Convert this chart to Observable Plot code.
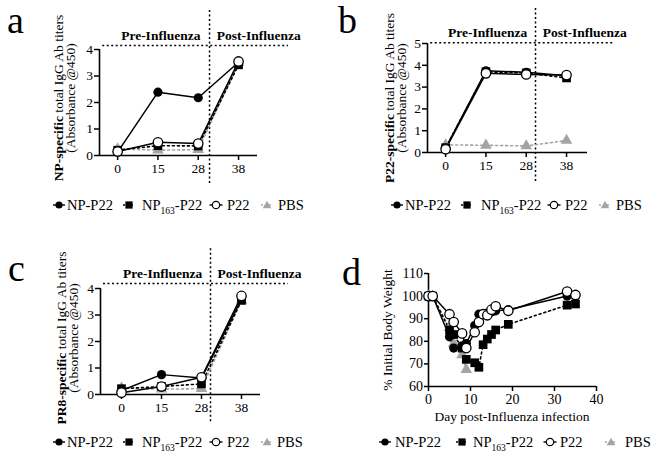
<!DOCTYPE html>
<html><head><meta charset="utf-8">
<script src="https://cdn.jsdelivr.net/npm/d3@7"></script>
<script src="https://cdn.jsdelivr.net/npm/@observablehq/plot@0.6"></script>
<style>
body{margin:0;background:#fff;}
#wrap{position:relative;width:658px;height:460px;overflow:hidden;font-family:'Liberation Serif','DejaVu Serif',serif;background:#fff;}
#wrap > svg{position:absolute;}
#wrap svg text{font-family:'Liberation Serif','DejaVu Serif',serif;}
</style></head><body><div id="wrap"></div>
<script>
// ---------- data ----------
const abDays = [0, 15, 28, 38];
const groups = ["NP-P22", "NP163-P22", "P22", "PBS"];
// a: NP-specific IgG (Absorbance @450)
const npNPP22 = [0.13, 2.39, 2.18, 3.52];
const npNP163 = [0.2, 0.37, 0.36, 3.42];
const npP22   = [0.15, 0.5, 0.45, 3.55];
const npPBS   = [0.25, 0.2, 0.22, 3.5];
// b: P22-specific IgG
const p22NPP22 = [0.2, 3.75, 3.68, 3.52];
const p22NP163 = [0.22, 3.7, 3.65, 3.42];
const p22P22   = [0.15, 3.63, 3.58, 3.55];
const p22PBS   = [0.35, 0.33, 0.3, 0.55];
// c: PR8-specific IgG
const pr8NPP22 = [0.15, 0.75, 0.62, 3.6];
const pr8NP163 = [0.22, 0.3, 0.4, 3.55];
const pr8P22   = [0.07, 0.3, 0.65, 3.72];
const pr8PBS   = [0.25, 0.2, 0.22, 3.55];
// d: % initial body weight
const bwDays  = [0, 1, 5, 6, 8, 9, 11, 12, 13, 14, 15, 16, 19, 33, 35];
const bwNPP22 = [100, 100, 82, 77, 78, 79, 87, 92, 92, 92.5, 93, 93.5, 94, 100, 100];
const bwNP163 = [100, 100, 85, 83, 77, 72, 70.5, 68.5, 78.5, 81, 83, 85, 87.5, 96, 96.5];
const bwP22   = [100, 100, 92, 88.5, 83.5, 77, 84, 88.5, 92, 91.5, 94, 95.5, 93.5, 102, 100.5];
const pbsDays = [0, 1, 5, 6, 8, 9];
const bwPBS   = [100, 100, 86, 79, 74, 67.5];
const ticks4 = [0, 1, 2, 3, 4];
const ticks5 = [0, 1, 2, 3, 4, 5];
const bwXTicks = [0, 10, 20, 30, 40];
const bwYTicks = [60, 70, 80, 90, 100, 110];

// ---------- styles ----------
const GRAY = "#a4a4a4";
const FONT = "'Liberation Serif', 'DejaVu Serif', serif";
const fmt = d => String(d);
const sty = {
  "NP-P22":    {line: {stroke: "black", strokeWidth: 1.5}, dot: {symbol: "circle", r: 4.6, fill: "black"}},
  "NP163-P22": {line: {stroke: "black", strokeWidth: 1.6, strokeDasharray: "2,3"}, dot: {symbol: "square", r: 4.9, fill: "black"}},
  "P22":       {line: {stroke: "black", strokeWidth: 1.5}, dot: {symbol: "circle", r: 4.7, fill: "white", stroke: "black", strokeWidth: 1.3}},
  "PBS":       {line: {stroke: GRAY, strokeWidth: 1.6, strokeDasharray: "2,3"}, dot: {symbol: "triangle", r: 4.3, fill: GRAY}}
};
const drawOrder = ["PBS", "NP163-P22", "NP-P22", "P22"];
const rows = (xs, ys) => ys.map((v, i) => ({x: xs[i], y: v}));
const idx = abDays.map((d, i) => i);

function seriesMarks(data) {
  const m = [];
  for (const g of drawOrder) m.push(Plot.line(data[g], {x: "x", y: "y", ...sty[g].line}));
  for (const g of drawOrder) m.push(Plot.dot(data[g], {x: "x", y: "y", ...sty[g].dot}));
  return m;
}

function abPanel(c) {
  const data = {
    "NP-P22": rows(idx, c.vals[0]), "NP163-P22": rows(idx, c.vals[1]),
    "P22": rows(idx, c.vals[2]), "PBS": rows(idx, c.vals[3])
  };
  const svg = Plot.plot({
    width: c.w, height: c.h,
    marginLeft: c.mL, marginTop: c.mT, marginRight: c.mR, marginBottom: c.mB,
    x: {type: "linear", domain: c.xd, axis: null},
    y: {domain: [0, c.yTicks[c.yTicks.length - 1]], axis: null},
    style: {fontFamily: FONT, fontSize: "13.5px", color: "black", background: "transparent"},
    marks: [
      Plot.ruleX([c.sepX], {y1: c.sepY[0], y2: c.sepY[1], stroke: "black", strokeWidth: 1.5, strokeDasharray: "2,2.5"}),
      Plot.ruleY([c.hY], {x1: c.hX[0], x2: c.hX[1], stroke: "black", strokeWidth: 1.5, strokeDasharray: "2,2.5"}),
      Plot.text(["Pre-Influenza"], {x: c.pre[0], y: c.pre[1], fontWeight: "bold", fontSize: 13.5}),
      Plot.text(["Post-Influenza"], {x: c.post[0], y: c.post[1], fontWeight: "bold", fontSize: 13.5}),
      Plot.ruleX([c.xd[0]], {stroke: "black", strokeWidth: 1.6}),
      Plot.ruleY([0], {stroke: "black", strokeWidth: 1.6}),
      Plot.axisX({ticks: idx, tickFormat: i => fmt(abDays[i]), tickSize: 5, tickPadding: 2.5, strokeWidth: 1.5, label: null}),
      Plot.axisY({ticks: c.yTicks, tickFormat: fmt, tickSize: 5, tickPadding: 1.5, strokeWidth: 1.5, label: null}),
      ...seriesMarks(data)
    ]
  });
  svg.style.left = c.left + "px"; svg.style.top = c.top + "px";
  return svg;
}

const wrap = document.getElementById("wrap");

wrap.appendChild(abPanel({
  left: 0, top: 0, w: 329, h: 200, mL: 99, mT: 49, mR: 72, mB: 45,
  xd: [-0.45, 3.47], yTicks: ticks4,
  vals: [npNPP22, npNP163, npP22, npPBS],
  sepX: 2.28, sepY: [5.47, -1.13], hY: 4.15, hX: [-0.37, 4.24],
  pre: [1.07, 4.53], post: [3.5, 4.53]
}));
wrap.appendChild(abPanel({
  left: 330, top: 0, w: 328, h: 200, mL: 97, mT: 43, mR: 71, mB: 48,
  xd: [-0.45, 3.52], yTicks: ticks5,
  vals: [p22NPP22, p22NP163, p22P22, p22PBS],
  sepX: 2.23, sepY: [6.6, -1.42], hY: 5.03, hX: [-0.37, 4.17],
  pre: [1.04, 5.5], post: [3.45, 5.5]
}));
wrap.appendChild(abPanel({
  left: 0, top: 220, w: 329, h: 220, mL: 100, mT: 68, mR: 69, mB: 46,
  xd: [-0.525, 3.475], yTicks: ticks4,
  vals: [pr8NPP22, pr8NP163, pr8P22, pr8PBS],
  sepX: 2.225, sepY: [5.5, -1.1], hY: 4.19, hX: [-0.45, 4.175],
  pre: [1.03, 4.57], post: [3.45, 4.57]
}));

// panel d
{
  const data = {
    "NP-P22": rows(bwDays, bwNPP22), "NP163-P22": rows(bwDays, bwNP163),
    "P22": rows(bwDays, bwP22), "PBS": rows(pbsDays, bwPBS)
  };
  const svg = Plot.plot({
    width: 328, height: 220, marginLeft: 98, marginTop: 53, marginRight: 62, marginBottom: 54,
    x: {domain: [0, 40], axis: null},
    y: {domain: [60, 110], axis: null},
    style: {fontFamily: FONT, fontSize: "14px", color: "black", background: "transparent"},
    marks: [
      Plot.ruleX([0], {stroke: "black", strokeWidth: 1.6}),
      Plot.ruleY([60], {stroke: "black", strokeWidth: 1.6}),
      Plot.axisX({ticks: bwXTicks, tickFormat: fmt, tickSize: 5, tickPadding: 3, strokeWidth: 1.5, label: null}),
      Plot.axisY({ticks: bwYTicks, tickFormat: fmt, tickSize: 4, tickPadding: 1.5, strokeWidth: 1.5, label: null}),
      ...seriesMarks(data)
    ]
  });
  svg.style.left = "330px"; svg.style.top = "220px";
  wrap.appendChild(svg);
}

// ---------- overlay: panel letters, axis titles, legends ----------
function legend(y, mx, tx) {
  let s = "";
  s += `<line x1="${mx[0]-6}" x2="${mx[0]+6}" y1="${y}" y2="${y}" stroke="black" stroke-width="1.4"/>`;
  s += `<circle cx="${mx[0]}" cy="${y}" r="3.6" fill="black"/>`;
  s += `<line x1="${mx[1]-6}" x2="${mx[1]+6}" y1="${y}" y2="${y}" stroke="black" stroke-width="1.4" stroke-dasharray="2,2"/>`;
  s += `<rect x="${mx[1]-3.6}" y="${y-3.6}" width="7.2" height="7.2" fill="black"/>`;
  s += `<line x1="${mx[2]-6.5}" x2="${mx[2]+6.5}" y1="${y}" y2="${y}" stroke="black" stroke-width="1.4"/>`;
  s += `<circle cx="${mx[2]}" cy="${y}" r="3.7" fill="white" stroke="black" stroke-width="1.2"/>`;
  s += `<line x1="${mx[3]-6}" x2="${mx[3]+6}" y1="${y}" y2="${y}" stroke="${GRAY}" stroke-width="1.4" stroke-dasharray="2,2"/>`;
  s += `<path d="M${mx[3]},${y-4.2}L${mx[3]+4.3},${y+3.2}L${mx[3]-4.3},${y+3.2}Z" fill="${GRAY}"/>`;
  const b = y + 5;
  s += `<text x="${tx[0]}" y="${b}">${groups[0]}</text>`;
  s += `<text x="${tx[1]}" y="${b}">NP<tspan dy="4" font-size="9.5">163</tspan><tspan dy="-4">-P22</tspan></text>`;
  s += `<text x="${tx[2]}" y="${b}">${groups[2]}</text>`;
  s += `<text x="${tx[3]}" y="${b}">${groups[3]}</text>`;
  return s;
}
function ytitle(cy, bold, rest, line2, b1, b2) {
  let s = `<text transform="translate(${b1},${cy}) rotate(-90)" text-anchor="middle"><tspan font-weight="bold">${bold}</tspan> ${rest}</text>`;
  if (line2) s += `<text transform="translate(${b2},${cy}) rotate(-90)" text-anchor="middle">${line2}</text>`;
  return s;
}
let ov = `<svg width="658" height="460" style="left:0;top:0" font-size="13.5" fill="black">`;
ov += `<g font-size="38"><text x="7" y="33">a</text><text x="338" y="33">b</text><text x="8" y="281">c</text><text x="342" y="285">d</text></g>`;
ov += ytitle(98, "NP-specific", "total IgG Ab titers", "(Absorbance @450)", 63, 75);
ov += ytitle(98, "P22-specific", "total IgG Ab titers", "(Absorbance @450)", 394, 406);
ov += ytitle(338, "PR8-specific", "total IgG Ab titers", "(Absorbance @450)", 66, 78);
ov += `<text transform="translate(392,330) rotate(-90)" text-anchor="middle">% Initial Body Weight</text>`;
ov += `<text x="512" y="421" text-anchor="middle">Day post-Influenza infection</text>`;
ov += `<g font-size="14.5">`;
ov += legend(205, [59, 129, 216, 267], [67, 142, 227, 278]);
ov += legend(205, [397, 467, 554, 605], [405, 481, 565, 616]);
ov += legend(442, [59, 129, 216, 267], [67, 142, 227, 277]);
ov += legend(442, [385, 462, 550, 611], [395, 473, 560, 625]);
ov += `</g></svg>`;
wrap.insertAdjacentHTML("beforeend", ov);
</script>
</body></html>
